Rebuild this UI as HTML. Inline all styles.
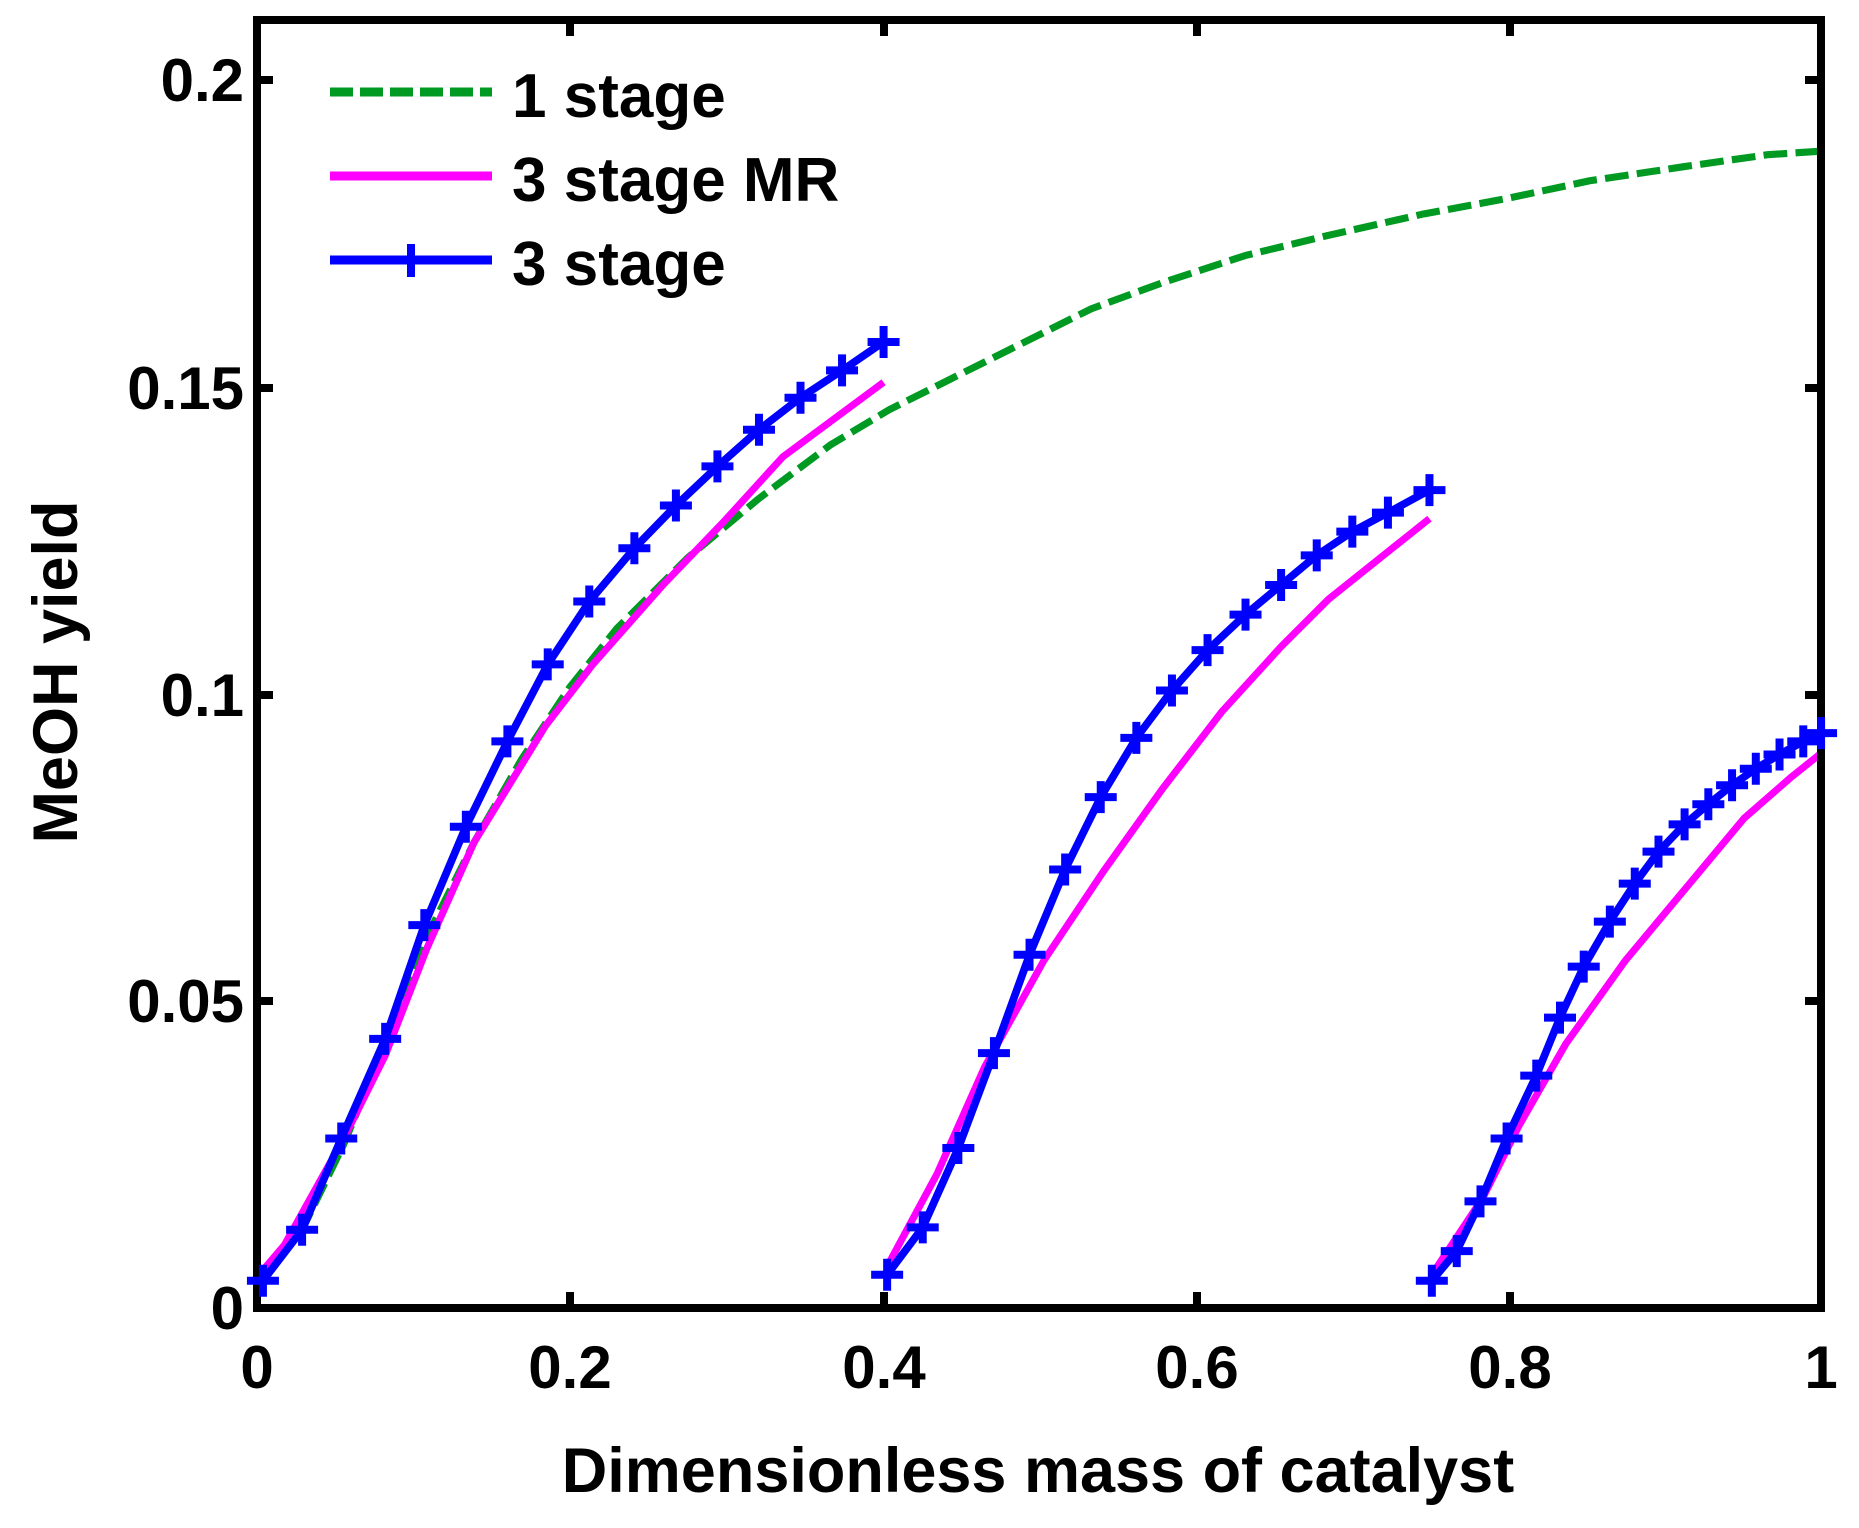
<!DOCTYPE html>
<html><head><meta charset="utf-8"><style>html,body{margin:0;padding:0;background:#fff}svg{display:block}</style></head>
<body>
<svg width="1859" height="1528" viewBox="0 0 1859 1528" xmlns="http://www.w3.org/2000/svg" font-family="Liberation Sans, Arial, sans-serif" font-weight="bold">
<g transform="translate(257,1308) scale(1.1867,1.1853) translate(-217,-1103)" fill="none" stroke-linejoin="round">
<polyline stroke="#009a22" stroke-width="6" stroke-dasharray="20,7" points="217,1080 255,1037 290,965 325,880 360,790 400,710 440,640 480,580 520,530 580,470 640,420 700,375 750,345 800,320 860,290 920,260 980,238 1050,215 1120,198 1200,180 1270,167 1340,152 1420,140 1490,130 1535,127"/>
<polyline stroke="#ff00ff" stroke-width="6" points="217,1077 240,1050 290,960 325,890 360,800 400,710 460,612 500,560 560,492 610,440 660,385 745,322"/>
<polyline stroke="#ff00ff" stroke-width="6" points="748,1068 790,990 830,900 880,810 930,735 980,665 1030,600 1080,545 1120,505 1170,465 1205,437"/>
<polyline stroke="#ff00ff" stroke-width="6" points="1207,1075 1250,1010 1280,950 1320,880 1370,810 1420,750 1470,690 1510,655 1535,635"/>
<polyline stroke="#0000ff" stroke-width="6.5" points="222,1080 255,1037 288,960 325,876 358,780 393,697 428,625 462,560 497,507 535,462 570,426 605,393 640,362 675,335 710,312 745,288"/>
<polyline stroke="#0000ff" stroke-width="6.5" points="748,1075 778,1035 808,968 838,888 868,805 898,733 928,672 958,622 988,582 1018,548 1050,518 1080,493 1110,468 1140,448 1170,432 1205,413"/>
<polyline stroke="#0000ff" stroke-width="6.5" points="1207,1080 1228,1055 1248,1013 1270,960 1295,907 1315,858 1335,815 1357,777 1378,745 1398,718 1420,695 1440,678 1460,662 1480,648 1500,636 1520,625 1535,618"/>
</g>
<g stroke="#000" stroke-width="8" fill="none">
<rect x="257" y="20" width="1564" height="1288"/>
<path d="M257,80h16M257,388h16M257,695h16M257,1001h16M1821,80h-16M1821,388h-16M1821,695h-16M1821,1001h-16M570,1308v-16M884,1308v-16M1197,1308v-16M1510,1308v-16M570,20v16M884,20v16M1197,20v16M1510,20v16"/>
</g>
<g font-size="60" fill="#000" text-anchor="end">
<text x="244" y="101">0.2</text>
<text x="244" y="409">0.15</text>
<text x="244" y="716">0.1</text>
<text x="244" y="1022">0.05</text>
<text x="244" y="1329">0</text>
</g>
<g font-size="60" fill="#000" text-anchor="middle">
<text x="257" y="1388">0</text>
<text x="570" y="1388">0.2</text>
<text x="884" y="1388">0.4</text>
<text x="1197" y="1388">0.6</text>
<text x="1510" y="1388">0.8</text>
<text x="1821" y="1388">1</text>
<text x="1038" y="1492" font-size="63">Dimensionless mass of catalyst</text>
<text transform="translate(77,672) rotate(-90)" font-size="63">MeOH yield</text>
</g>
<g stroke-width="9">
<line x1="330" y1="92" x2="492" y2="92" stroke="#009a22" stroke-dasharray="23,7"/>
<line x1="330" y1="176" x2="492" y2="176" stroke="#ff00ff"/>
<line x1="330" y1="260" x2="492" y2="260" stroke="#0000ff"/>
<line x1="411" y1="244" x2="411" y2="277" stroke="#0000ff" stroke-width="8"/>
</g>
<g font-size="62" fill="#000">
<text x="512" y="117">1 stage</text>
<text x="512" y="201">3 stage MR</text>
<text x="512" y="285">3 stage</text>
</g>
<g stroke="#0000ff" stroke-width="8" fill="none" id="plusg"></g>
<script>
var pts=[[222,1080],[255,1037],[288,960],[325,876],[358,780],[393,697],[428,625],[462,560],[497,507],[535,462],[570,426],[605,393],[640,362],[675,335],[710,312],[745,288],
[748,1075],[778,1035],[808,968],[838,888],[868,805],[898,733],[928,672],[958,622],[988,582],[1018,548],[1050,518],[1080,493],[1110,468],[1140,448],[1170,432],[1205,413],
[1207,1080],[1228,1055],[1248,1013],[1270,960],[1295,907],[1315,858],[1335,815],[1357,777],[1378,745],[1398,718],[1420,695],[1440,678],[1460,662],[1480,648],[1500,636],[1520,625],[1535,618]];
var d="";pts.forEach(function(p){var x=257+(p[0]-217)*1.1867,y=1308-(1103-p[1])*1.1853;d+="M"+(x-16)+","+y+"h32M"+x+","+(y-16)+"v32";});
var g=document.getElementById("plusg");var e=document.createElementNS("http://www.w3.org/2000/svg","path");e.setAttribute("d",d);g.appendChild(e);
</script>
</svg>
</body></html>
